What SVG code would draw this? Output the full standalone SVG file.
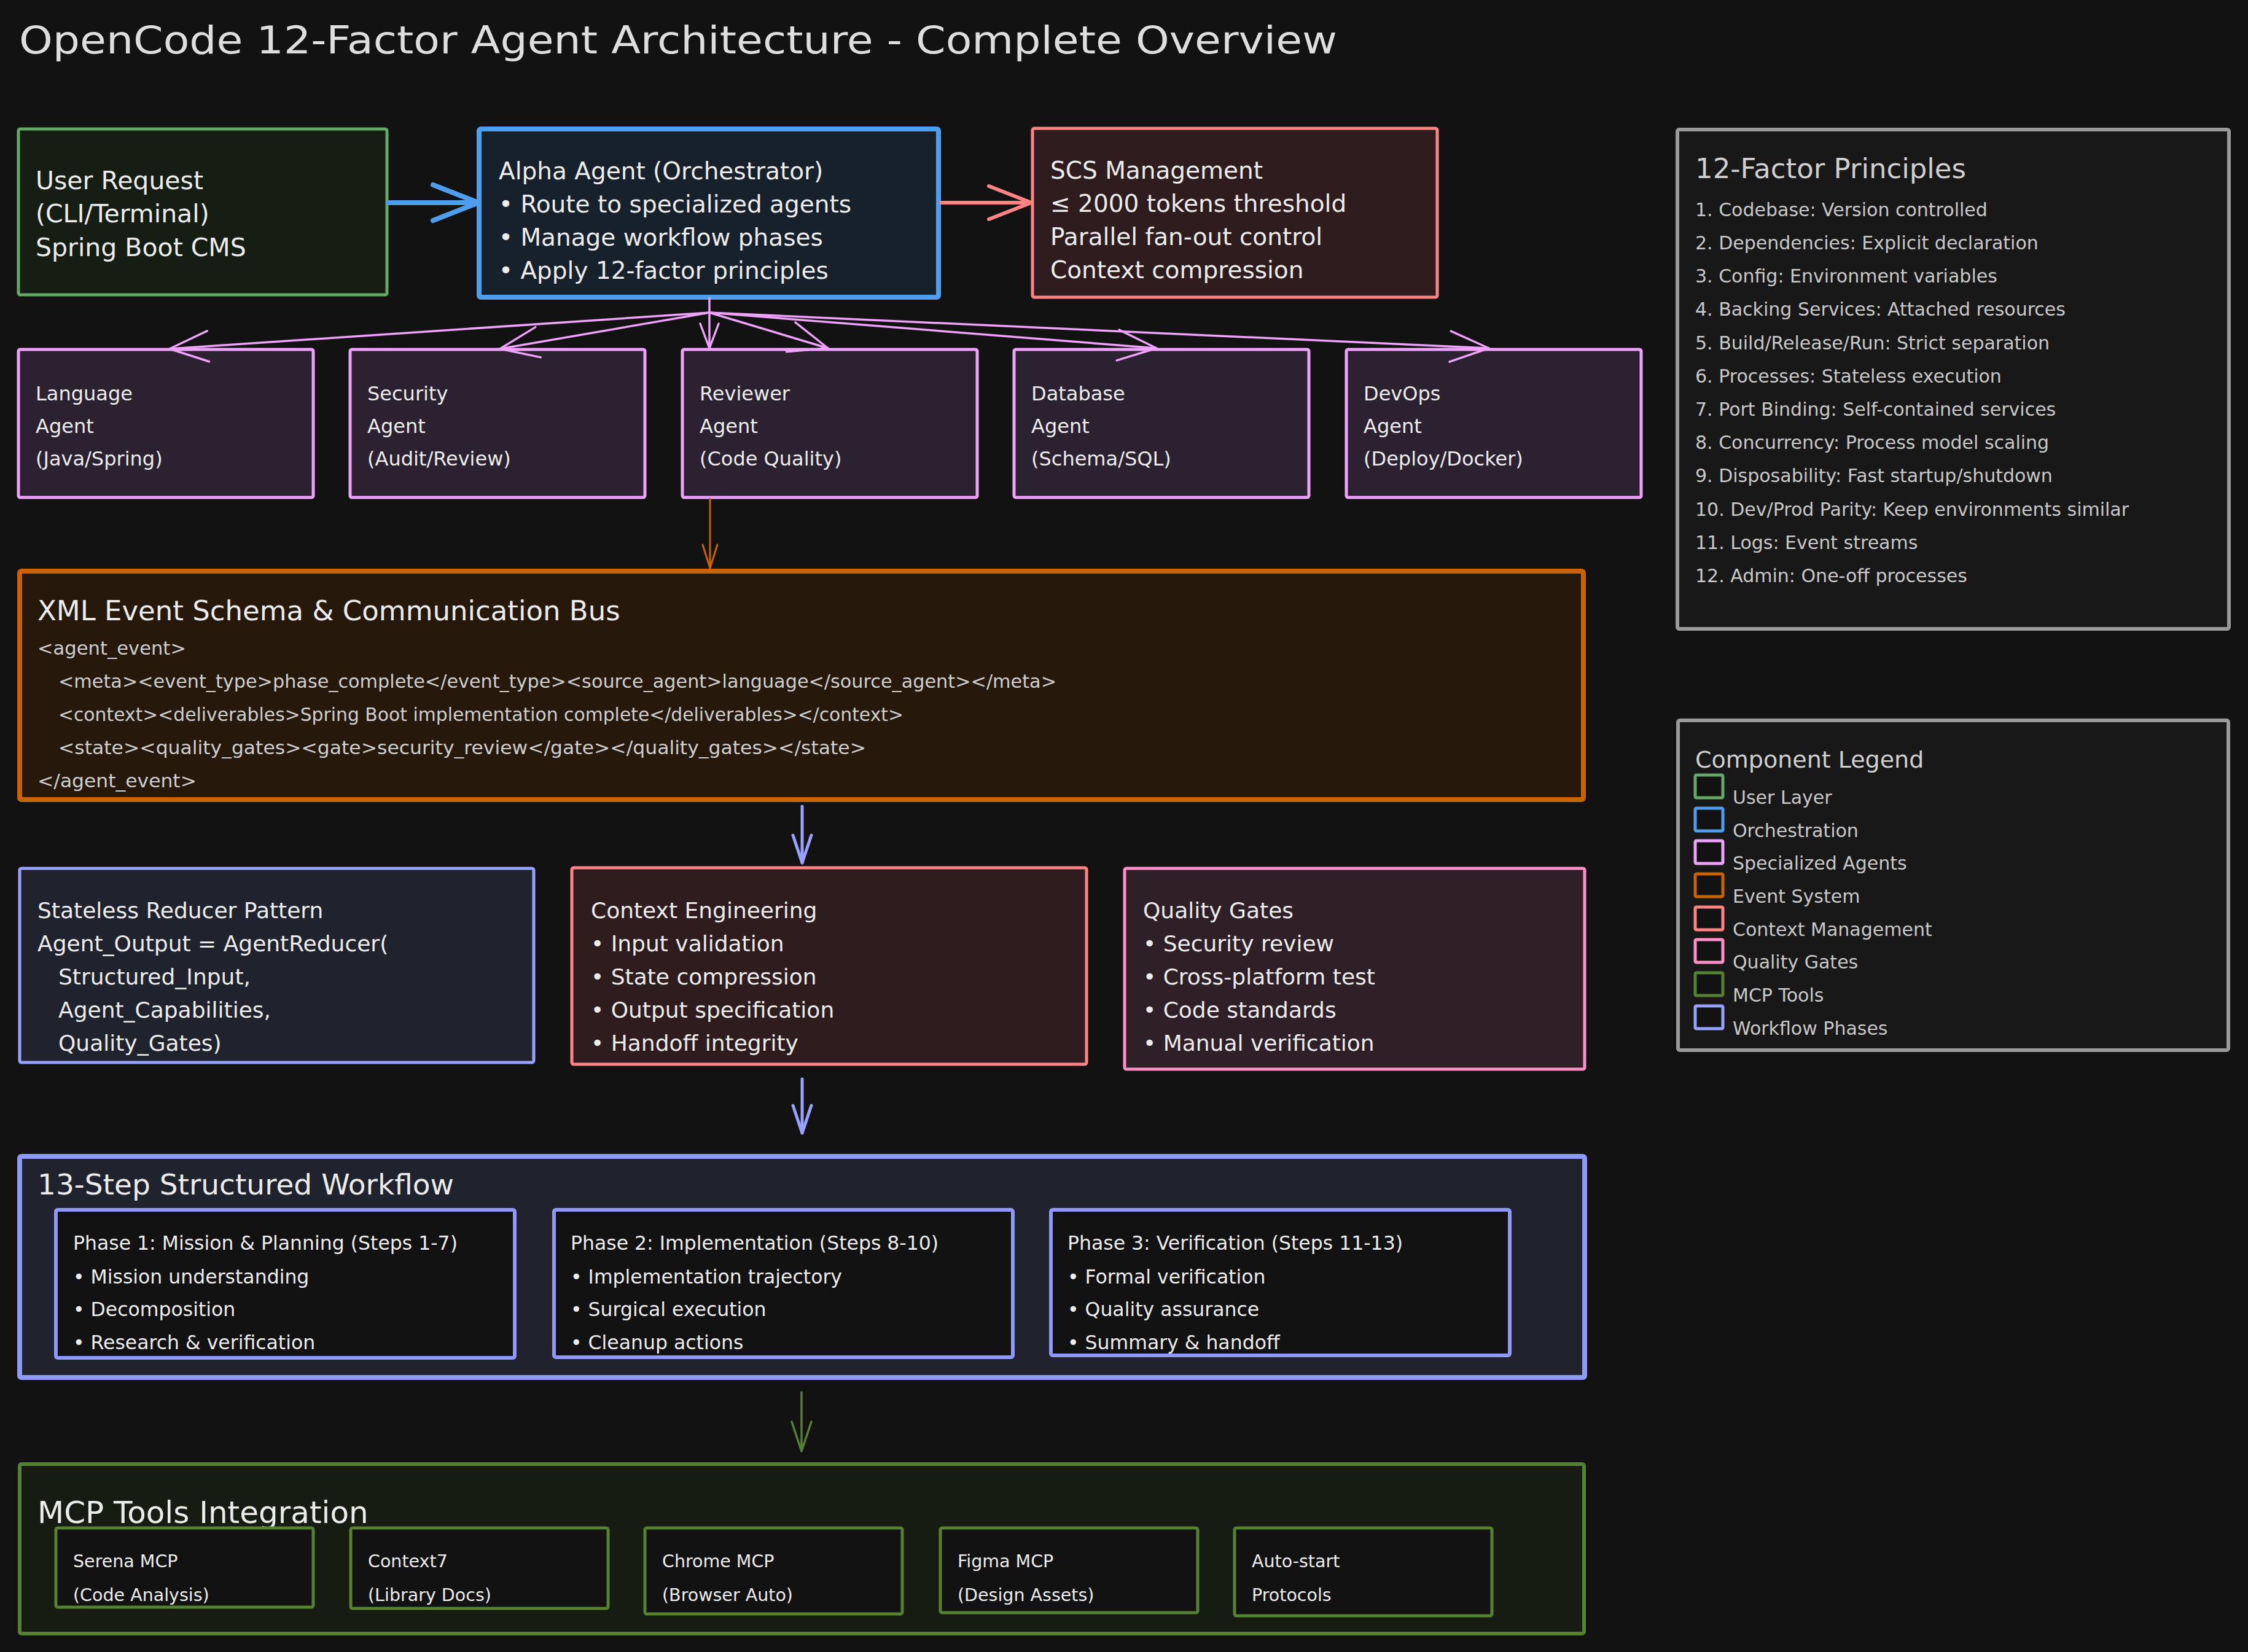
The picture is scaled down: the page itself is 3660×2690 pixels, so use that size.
<svg xmlns="http://www.w3.org/2000/svg" width="3660" height="2690" viewBox="0 0 3660 2690">
<style>
  text { font-family: "DejaVu Sans", "Liberation Sans", sans-serif; fill: #ececec; }
  .title { font-size: 62px; fill: #dedede; }
  .h1 { font-size: 39px; }
  .ag { font-size: 32px; }
  .big { font-size: 45px; }
  .mid { font-size: 36px; }
  .ph { font-size: 31.5px; }
  .mcp { font-size: 28.5px; }
  .code { font-size: 30px; fill: #cfcfcf; }
  .ptitle { font-size: 45px; fill: #cfcfcf; }
  .pitem { font-size: 30px; fill: #c8c8c8; }
  .ltitle { font-size: 38px; fill: #cfcfcf; }
  rect { stroke-linejoin: round; }
  .user { fill: #161e14; stroke: #63a865; stroke-width: 5; }
  .alpha { fill: #16212b; stroke: #4f9ded; stroke-width: 8; }
  .ctx { fill: #2e1c1f; stroke: #ff8383; stroke-width: 5; }
  .agent { fill: #2b2131; stroke: #eea2f9; stroke-width: 5; }
  .xml { fill: #26190b; stroke: #c76400; stroke-width: 8; }
  .reducer { fill: #20232d; stroke: #98a1fb; stroke-width: 5; }
  .qg { fill: #2f1f27; stroke: #ff8fc7; stroke-width: 5; }
  .wf { fill: #20232d; stroke: #9099f5; stroke-width: 8; }
  .phase { fill: #121212; stroke: #9099f5; stroke-width: 6; }
  .mcpo { fill: #171c12; stroke: #568130; stroke-width: 6; }
  .mcpi { fill: #121212; stroke: #568130; stroke-width: 5; }
  .panel { fill: #181818; stroke: #9a9a9a; stroke-width: 6; }
  .sw { fill: #121212; stroke-width: 5; }
  .conn { fill: none; stroke-linecap: round; }
  .fan { stroke: #eea2f9; stroke-width: 3.5; }
</style>
<defs>
  <marker id="ah-blue" markerUnits="userSpaceOnUse" viewBox="-90 -45 100 90" refX="0" refY="0" markerWidth="100" markerHeight="90" orient="auto" style="overflow:visible">
    <path d="M-74 -29 L0 0 L-74 29" fill="none" stroke="#4f9ded" stroke-width="8" stroke-linecap="round" stroke-linejoin="round"/>
  </marker>
  <marker id="ah-salmon" markerUnits="userSpaceOnUse" viewBox="-90 -45 100 90" refX="0" refY="0" markerWidth="100" markerHeight="90" orient="auto" style="overflow:visible">
    <path d="M-69 -27 L0 0 L-69 27" fill="none" stroke="#ff8383" stroke-width="6" stroke-linecap="round" stroke-linejoin="round"/>
  </marker>
  <marker id="ah-pink" markerUnits="userSpaceOnUse" viewBox="-90 -45 100 90" refX="0" refY="0" markerWidth="100" markerHeight="90" orient="auto" style="overflow:visible">
    <path d="M-63 -25 L0 0 L-63 25" fill="none" stroke="#eea2f9" stroke-width="3.5" stroke-linecap="round" stroke-linejoin="round"/>
  </marker>
  <marker id="ah-pink-s" markerUnits="userSpaceOnUse" viewBox="-90 -45 100 90" refX="0" refY="0" markerWidth="100" markerHeight="90" orient="auto" style="overflow:visible">
    <path d="M-40 -15 L0 0 L-40 15" fill="none" stroke="#eea2f9" stroke-width="3.5" stroke-linecap="round" stroke-linejoin="round"/>
  </marker>
  <marker id="ah-orange" markerUnits="userSpaceOnUse" viewBox="-90 -45 100 90" refX="0" refY="0" markerWidth="100" markerHeight="90" orient="auto" style="overflow:visible">
    <path d="M-38 -12 L0 0 L-38 12" fill="none" stroke="#c76400" stroke-width="3" stroke-linecap="round" stroke-linejoin="round"/>
  </marker>
  <marker id="ah-peri" markerUnits="userSpaceOnUse" viewBox="-90 -45 100 90" refX="0" refY="0" markerWidth="100" markerHeight="90" orient="auto" style="overflow:visible">
    <path d="M-45 -15 L0 0 L-45 15" fill="none" stroke="#98a1fb" stroke-width="5" stroke-linecap="round" stroke-linejoin="round"/>
  </marker>
  <marker id="ah-green" markerUnits="userSpaceOnUse" viewBox="-90 -45 100 90" refX="0" refY="0" markerWidth="100" markerHeight="90" orient="auto" style="overflow:visible">
    <path d="M-48 -16 L0 0 L-48 16" fill="none" stroke="#568130" stroke-width="3.5" stroke-linecap="round" stroke-linejoin="round"/>
  </marker>
</defs>

<rect x="0" y="0" width="3660" height="2690" fill="#121212"/>

<text class="title" x="31" y="87" textLength="2146" lengthAdjust="spacingAndGlyphs">OpenCode 12-Factor Agent Architecture - Complete Overview</text>

<g id="user-request">
  <rect class="user" x="30" y="210" width="600" height="270" rx="3"/>
  <text class="h1" x="58" y="308" style="font-size:41px">User Request</text>
  <text class="h1" x="58" y="362" style="font-size:41px">(CLI/Terminal)</text>
  <text class="h1" x="58" y="417" style="font-size:41px">Spring Boot CMS</text>
</g>

<g id="alpha-agent">
  <rect class="alpha" x="780" y="210" width="748" height="274" rx="3"/>
  <text class="h1" x="812" y="292">Alpha Agent (Orchestrator)</text>
  <text class="h1" x="812" y="346">• Route to specialized agents</text>
  <text class="h1" x="812" y="400">• Manage workflow phases</text>
  <text class="h1" x="812" y="454">• Apply 12-factor principles</text>
</g>

<g id="scs-management">
  <rect class="ctx" x="1681" y="209" width="659" height="275" rx="3"/>
  <text class="h1" x="1710" y="291">SCS Management</text>
  <text class="h1" x="1710" y="345">≤ 2000 tokens threshold</text>
  <text class="h1" x="1710" y="399">Parallel fan-out control</text>
  <text class="h1" x="1710" y="453">Context compression</text>
</g>

<g id="language-agent">
  <rect class="agent" x="30" y="569" width="480" height="241" rx="3"/>
  <text class="ag" x="58" y="652">Language</text>
  <text class="ag" x="58" y="705">Agent</text>
  <text class="ag" x="58" y="758">(Java/Spring)</text>
</g>
<g id="security-agent">
  <rect class="agent" x="570" y="569" width="480" height="241" rx="3"/>
  <text class="ag" x="598" y="652">Security</text>
  <text class="ag" x="598" y="705">Agent</text>
  <text class="ag" x="598" y="758">(Audit/Review)</text>
</g>
<g id="reviewer-agent">
  <rect class="agent" x="1111" y="569" width="480" height="241" rx="3"/>
  <text class="ag" x="1139" y="652">Reviewer</text>
  <text class="ag" x="1139" y="705">Agent</text>
  <text class="ag" x="1139" y="758">(Code Quality)</text>
</g>
<g id="database-agent">
  <rect class="agent" x="1651" y="569" width="480" height="241" rx="3"/>
  <text class="ag" x="1679" y="652">Database</text>
  <text class="ag" x="1679" y="705">Agent</text>
  <text class="ag" x="1679" y="758">(Schema/SQL)</text>
</g>
<g id="devops-agent">
  <rect class="agent" x="2192" y="569" width="480" height="241" rx="3"/>
  <text class="ag" x="2220" y="652">DevOps</text>
  <text class="ag" x="2220" y="705">Agent</text>
  <text class="ag" x="2220" y="758">(Deploy/Docker)</text>
</g>

<g id="xml-event-bus">
  <rect class="xml" x="32" y="930" width="2546" height="372" rx="3"/>
  <text class="big" x="61" y="1010">XML Event Schema &amp; Communication Bus</text>
  <text class="code" x="61" y="1066" textLength="242" lengthAdjust="spacingAndGlyphs">&lt;agent_event&gt;</text>
  <text class="code" x="95" y="1120" textLength="1625" lengthAdjust="spacingAndGlyphs">&lt;meta&gt;&lt;event_type&gt;phase_complete&lt;/event_type&gt;&lt;source_agent&gt;language&lt;/source_agent&gt;&lt;/meta&gt;</text>
  <text class="code" x="95" y="1174" textLength="1376" lengthAdjust="spacingAndGlyphs">&lt;context&gt;&lt;deliverables&gt;Spring Boot implementation complete&lt;/deliverables&gt;&lt;/context&gt;</text>
  <text class="code" x="95" y="1228" textLength="1315" lengthAdjust="spacingAndGlyphs">&lt;state&gt;&lt;quality_gates&gt;&lt;gate&gt;security_review&lt;/gate&gt;&lt;/quality_gates&gt;&lt;/state&gt;</text>
  <text class="code" x="61" y="1282" textLength="259" lengthAdjust="spacingAndGlyphs">&lt;/agent_event&gt;</text>
</g>

<g id="stateless-reducer">
  <rect class="reducer" x="32" y="1414" width="837" height="316" rx="3"/>
  <text class="mid" x="61" y="1495">Stateless Reducer Pattern</text>
  <text class="mid" x="61" y="1549">Agent_Output = AgentReducer(</text>
  <text class="mid" x="95" y="1603">Structured_Input,</text>
  <text class="mid" x="95" y="1657">Agent_Capabilities,</text>
  <text class="mid" x="95" y="1711">Quality_Gates)</text>
</g>

<g id="context-engineering">
  <rect class="ctx" x="931" y="1413" width="838" height="320" rx="3"/>
  <text class="mid" x="962" y="1495">Context Engineering</text>
  <text class="mid" x="962" y="1549">• Input validation</text>
  <text class="mid" x="962" y="1603">• State compression</text>
  <text class="mid" x="962" y="1657">• Output specification</text>
  <text class="mid" x="962" y="1711">• Handoff integrity</text>
</g>

<g id="quality-gates">
  <rect class="qg" x="1831" y="1414" width="749" height="327" rx="3"/>
  <text class="mid" x="1861" y="1495">Quality Gates</text>
  <text class="mid" x="1861" y="1549">• Security review</text>
  <text class="mid" x="1861" y="1603">• Cross-platform test</text>
  <text class="mid" x="1861" y="1657">• Code standards</text>
  <text class="mid" x="1861" y="1711">• Manual verification</text>
</g>

<g id="workflow">
  <rect class="wf" x="32" y="1883" width="2548" height="360" rx="3"/>
  <text class="big" x="61" y="1945" style="font-size:47px">13-Step Structured Workflow</text>
  <g id="phase-1">
    <rect class="phase" x="91" y="1970" width="747" height="241" rx="3"/>
    <text class="ph" x="119" y="2035">Phase 1: Mission &amp; Planning (Steps 1-7)</text>
    <text class="ph" x="119" y="2090">• Mission understanding</text>
    <text class="ph" x="119" y="2143">• Decomposition</text>
    <text class="ph" x="119" y="2197">• Research &amp; verification</text>
  </g>
  <g id="phase-2">
    <rect class="phase" x="902" y="1970" width="747" height="240" rx="3"/>
    <text class="ph" x="929" y="2035">Phase 2: Implementation (Steps 8-10)</text>
    <text class="ph" x="929" y="2090">• Implementation trajectory</text>
    <text class="ph" x="929" y="2143">• Surgical execution</text>
    <text class="ph" x="929" y="2197">• Cleanup actions</text>
  </g>
  <g id="phase-3">
    <rect class="phase" x="1711" y="1970" width="747" height="237" rx="3"/>
    <text class="ph" x="1738" y="2035">Phase 3: Verification (Steps 11-13)</text>
    <text class="ph" x="1738" y="2090">• Formal verification</text>
    <text class="ph" x="1738" y="2143">• Quality assurance</text>
    <text class="ph" x="1738" y="2197">• Summary &amp; handoff</text>
  </g>
</g>

<g id="mcp-tools">
  <rect class="mcpo" x="32" y="2384" width="2547" height="276" rx="3"/>
  <text class="big" x="61" y="2480" style="font-size:50px">MCP Tools Integration</text>
  <g id="serena-mcp">
    <rect class="mcpi" x="91" y="2488" width="419" height="129" rx="3"/>
    <text class="mcp" x="119" y="2552">Serena MCP</text>
    <text class="mcp" x="119" y="2607">(Code Analysis)</text>
  </g>
  <g id="context7">
    <rect class="mcpi" x="571" y="2488" width="419" height="131" rx="3"/>
    <text class="mcp" x="599" y="2552">Context7</text>
    <text class="mcp" x="599" y="2607">(Library Docs)</text>
  </g>
  <g id="chrome-mcp">
    <rect class="mcpi" x="1050" y="2488" width="419" height="140" rx="3"/>
    <text class="mcp" x="1078" y="2552">Chrome MCP</text>
    <text class="mcp" x="1078" y="2607">(Browser Auto)</text>
  </g>
  <g id="figma-mcp">
    <rect class="mcpi" x="1531" y="2488" width="419" height="138" rx="3"/>
    <text class="mcp" x="1559" y="2552">Figma MCP</text>
    <text class="mcp" x="1559" y="2607">(Design Assets)</text>
  </g>
  <g id="auto-start">
    <rect class="mcpi" x="2010" y="2488" width="419" height="143" rx="3"/>
    <text class="mcp" x="2038" y="2552">Auto-start</text>
    <text class="mcp" x="2038" y="2607">Protocols</text>
  </g>
</g>

<g id="principles">
  <rect class="panel" x="2731" y="211" width="898" height="813" rx="3"/>
  <text class="ptitle" x="2760" y="290">12-Factor Principles</text>
  <text class="pitem" x="2760" y="352">1. Codebase: Version controlled</text>
  <text class="pitem" x="2760" y="406">2. Dependencies: Explicit declaration</text>
  <text class="pitem" x="2760" y="460">3. Config: Environment variables</text>
  <text class="pitem" x="2760" y="514">4. Backing Services: Attached resources</text>
  <text class="pitem" x="2760" y="569">5. Build/Release/Run: Strict separation</text>
  <text class="pitem" x="2760" y="623">6. Processes: Stateless execution</text>
  <text class="pitem" x="2760" y="677">7. Port Binding: Self-contained services</text>
  <text class="pitem" x="2760" y="731">8. Concurrency: Process model scaling</text>
  <text class="pitem" x="2760" y="785">9. Disposability: Fast startup/shutdown</text>
  <text class="pitem" x="2760" y="840">10. Dev/Prod Parity: Keep environments similar</text>
  <text class="pitem" x="2760" y="894">11. Logs: Event streams</text>
  <text class="pitem" x="2760" y="948">12. Admin: One-off processes</text>
</g>

<g id="legend">
  <rect class="panel" x="2732" y="1173" width="896" height="537" rx="3"/>
  <text class="ltitle" x="2760" y="1250">Component Legend</text>
  <rect class="sw" x="2760" y="1262" width="45" height="37" rx="2" stroke="#63a865"/>
  <text class="pitem" x="2821" y="1309">User Layer</text>
  <rect class="sw" x="2760" y="1316" width="45" height="37" rx="2" stroke="#4f9ded"/>
  <text class="pitem" x="2821" y="1363">Orchestration</text>
  <rect class="sw" x="2760" y="1369" width="45" height="37" rx="2" stroke="#eea2f9"/>
  <text class="pitem" x="2821" y="1416">Specialized Agents</text>
  <rect class="sw" x="2760" y="1423" width="45" height="37" rx="2" stroke="#c76400"/>
  <text class="pitem" x="2821" y="1470">Event System</text>
  <rect class="sw" x="2760" y="1477" width="45" height="37" rx="2" stroke="#ff8383"/>
  <text class="pitem" x="2821" y="1524">Context Management</text>
  <rect class="sw" x="2760" y="1530" width="45" height="37" rx="2" stroke="#ff8fc7"/>
  <text class="pitem" x="2821" y="1577">Quality Gates</text>
  <rect class="sw" x="2760" y="1584" width="45" height="37" rx="2" stroke="#568130"/>
  <text class="pitem" x="2821" y="1631">MCP Tools</text>
  <rect class="sw" x="2760" y="1638" width="45" height="37" rx="2" stroke="#98a1fb"/>
  <text class="pitem" x="2821" y="1685">Workflow Phases</text>
</g>

<g id="connectors">
  <line class="conn" x1="632" y1="330" x2="779" y2="330" stroke="#4f9ded" stroke-width="8" marker-end="url(#ah-blue)"/>
  <line class="conn" x1="1532" y1="330" x2="1679" y2="330" stroke="#ff8383" stroke-width="6" marker-end="url(#ah-salmon)"/>
  <line class="conn fan" x1="1155" y1="486" x2="1155" y2="509"/>
  <line class="conn fan" x1="1155" y1="509" x2="276" y2="568" marker-end="url(#ah-pink)"/>
  <line class="conn fan" x1="1155" y1="509" x2="814" y2="568" marker-end="url(#ah-pink)"/>
  <line class="conn fan" x1="1155" y1="509" x2="1155" y2="567" marker-end="url(#ah-pink-s)"/>
  <line class="conn fan" x1="1155" y1="509" x2="1348" y2="567" marker-end="url(#ah-pink)"/>
  <line class="conn fan" x1="1155" y1="509" x2="1883" y2="567" marker-end="url(#ah-pink)"/>
  <line class="conn fan" x1="1155" y1="509" x2="2424" y2="567" marker-end="url(#ah-pink)"/>
  <line class="conn" x1="1156" y1="812" x2="1156" y2="925" stroke="#c76400" stroke-width="3" marker-end="url(#ah-orange)"/>
  <line class="conn" x1="1306" y1="1313" x2="1306" y2="1405" stroke="#98a1fb" stroke-width="5" marker-end="url(#ah-peri)"/>
  <line class="conn" x1="1306" y1="1757" x2="1306" y2="1845" stroke="#98a1fb" stroke-width="5" marker-end="url(#ah-peri)"/>
  <line class="conn" x1="1305" y1="2267" x2="1305" y2="2363" stroke="#568130" stroke-width="3.5" marker-end="url(#ah-green)"/>
</g>
</svg>
